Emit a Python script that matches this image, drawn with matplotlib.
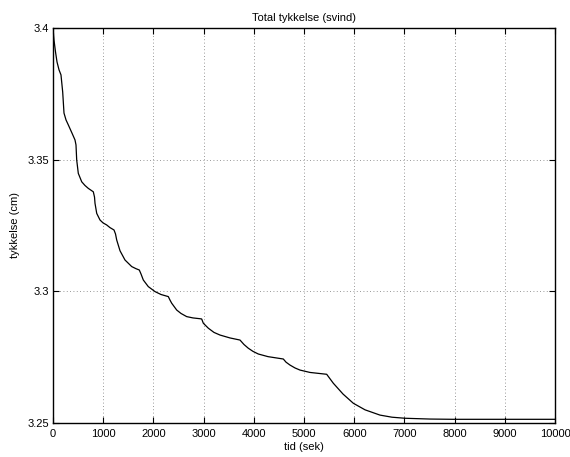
import matplotlib
matplotlib.use("Agg")
import matplotlib.pyplot as plt
import numpy as np

plt.rcParams['font.family'] = ['Liberation Sans', 'DejaVu Sans']

# Drying time (s) and total thickness (cm)
tid_sek = [0, 20, 50, 80, 120, 159, 193, 219, 259, 305, 378, 438, 458, 472, 504,
           572, 637, 703, 803, 827, 837, 871, 936, 996, 1070, 1135, 1215, 1245,
           1269, 1335, 1434, 1568, 1653, 1719, 1753, 1799, 1898, 2032, 2151, 2297,
           2330, 2364, 2464, 2550, 2663, 2789, 2928, 2962, 2994, 3094, 3207, 3327,
           3526, 3725, 3805, 3890, 3984, 4090, 4283, 4588, 4642, 4721, 4821, 4920,
           5119, 5452, 5584, 5777, 5982, 6216, 6514, 6753, 7012, 7510, 7974, 10000]
tykkelse_cm = [3.4000, 3.3954, 3.3909, 3.3871, 3.3841, 3.3822, 3.3757, 3.3677,
               3.3651, 3.3632, 3.3601, 3.3575, 3.3556, 3.3499, 3.3448, 3.3416,
               3.3402, 3.3391, 3.3378, 3.3358, 3.3334, 3.3296, 3.3271, 3.3260,
               3.3252, 3.3242, 3.3233, 3.3218, 3.3195, 3.3154, 3.3119, 3.3094,
               3.3086, 3.3081, 3.3066, 3.3043, 3.3018, 3.2999, 3.2988, 3.2980,
               3.2967, 3.2955, 3.2929, 3.2916, 3.2904, 3.2899, 3.2896, 3.2895,
               3.2879, 3.2860, 3.2844, 3.2834, 3.2823, 3.2815, 3.2798, 3.2784,
               3.2772, 3.2762, 3.2752, 3.2743, 3.2731, 3.2720, 3.2709, 3.2701,
               3.2692, 3.2685, 3.2651, 3.2610, 3.2575, 3.2550, 3.2530, 3.2522,
               3.2518, 3.2515, 3.2514, 3.2514]

x_ticks = [0, 1000, 2000, 3000, 4000, 5000, 6000, 7000, 8000, 9000, 10000]
y_ticks = [3.25, 3.3, 3.35, 3.4]
y_tick_labels = ['3.25', '3.3', '3.35', '3.4']

fig = plt.figure(figsize=(5.70, 4.57), dpi=100, facecolor='white')
ax = fig.add_axes([53 / 570, 34 / 457, 502 / 570, 395 / 457])

ax.plot(tid_sek, tykkelse_cm, color='black', linewidth=0.9)

ax.set_xlim(0, 10000)
ax.set_ylim(3.25, 3.4)
ax.set_xticks(x_ticks)
ax.set_xticklabels([str(v) for v in x_ticks])
ax.set_yticks(y_ticks)
ax.set_yticklabels(y_tick_labels)

ax.grid(True, linestyle=(0, (1, 3)), color='#777777', linewidth=0.6)
ax.tick_params(direction='in', length=4, width=0.8, labelsize=8,
               top=True, right=True)
ax.tick_params(axis='x', pad=4)
ax.tick_params(axis='y', pad=3)
for s in ax.spines.values():
    s.set_linewidth(1.0)

ax.set_title('Total tykkelse (svind)', fontsize=8, pad=5)
ax.set_xlabel('tid (sek)', fontsize=8, labelpad=2.5)
ax.set_ylabel('tykkelse (cm)', fontsize=8, labelpad=5)

fig.savefig('out.png', dpi=100, facecolor='white')
